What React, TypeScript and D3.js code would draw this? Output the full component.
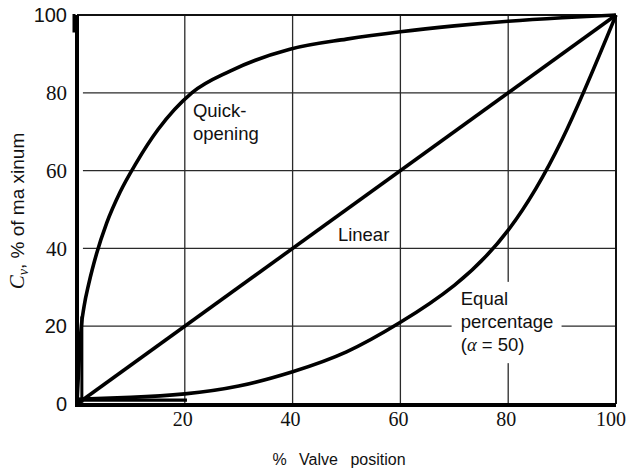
import React from 'react';
import * as d3 from 'd3';

// Tick values
const xTickValues = [20, 40, 60, 80, 100];
const yTickValues = [0, 20, 40, 60, 80, 100];
const gridValues = [20, 40, 60, 80];

// Series (valve position %, Cv % of maximum)
const linearX = [0, 100];
const linearY = [0, 100];

const quickX = [0, 0.8, 1.3, 2.2, 3.6, 5.5, 8, 11, 15, 21.3, 28.4, 39.5, 50, 60, 70, 80, 90, 100];
const quickY = [0, 20, 25, 31, 38.5, 46.5, 54.5, 62, 70.5, 80, 85.6, 91.2, 93.8, 95.7, 97.2, 98.4, 99.3, 100];

const equalX = [0, 10, 20, 30, 40, 50, 60, 70, 80, 90, 100];
const equalY = [1.2, 1.7, 2.6, 4.6, 8.3, 13.4, 21, 30.5, 44.7, 68, 100];

// Scan artefacts drawn as extra strokes
const baseStubX = [0.5, 20.4];
const baseStubY = [1.0, 1.0];
const leftStubX = [0.9, 0.9];
const leftStubY = [0.3, 22.5];

const zip = (xs: number[], ys: number[]) => xs.map((v, i) => [v, ys[i]] as [number, number]);

export default function App() {
  const W = 627;
  const H = 470;
  const x = d3.scaleLinear().domain([0, 100]).range([77, 616]);
  const y = d3.scaleLinear().domain([0, 100]).range([404, 15]);
  const line = d3
    .line<[number, number]>()
    .x((d) => x(d[0]))
    .y((d) => y(d[1]))
    .curve(d3.curveMonotoneX);
  const smooth = d3
    .line<[number, number]>()
    .x((d) => x(d[0]))
    .y((d) => y(d[1]))
    .curve(d3.curveNatural);
  const straight = d3
    .line<[number, number]>()
    .x((d) => x(d[0]))
    .y((d) => y(d[1]));

  const serifY = new Set([40, 60, 80]);
  const sans = 'Liberation Sans, Arial, sans-serif';
  const serif = 'Liberation Serif, Times New Roman, serif';
  const gridColor = '#2a2a2a';

  return (
    <svg
      width={W}
      height={H}
      viewBox={`0 0 ${W} ${H}`}
      style={{ position: 'absolute', left: 0, top: 0, background: '#fff' }}
    >
      <rect x={0} y={0} width={W} height={H} fill="#fff" />
      {/* grid */}
      {gridValues.map((v) => (
        <line key={'vx' + v} x1={x(v)} x2={x(v)} y1={y(0)} y2={y(100)} stroke={gridColor} strokeWidth={1.3} />
      ))}
      {gridValues.map((v) => (
        <line key={'hy' + v} x1={x(1.1)} x2={x(100)} y1={y(v)} y2={y(v)} stroke={gridColor} strokeWidth={1.3} />
      ))}
      {/* frame */}
      <line x1={x(0)} x2={x(100)} y1={y(100)} y2={y(100)} stroke="#111" strokeWidth={2} />
      <line x1={x(100)} x2={x(100)} y1={y(0)} y2={y(100)} stroke="#111" strokeWidth={2} />

      {/* white box behind equal percentage label */}
      <rect x={x(69.5)} y={y(31.4)} width={x(89.9) - x(69.5)} height={y(10.5) - y(31.4)} fill="#fff" />

      {/* curves */}
      <path d={straight(zip(linearX, linearY)) || ''} fill="none" stroke="#000" strokeWidth={3.6} />
      <path d={line(zip(quickX, quickY)) || ''} fill="none" stroke="#000" strokeWidth={3.6} />
      <path d={smooth(zip(equalX, equalY)) || ''} fill="none" stroke="#000" strokeWidth={3.6} />
      <path d={straight(zip(baseStubX, baseStubY)) || ''} fill="none" stroke="#000" strokeWidth={3.4} />
      <path d={straight(zip(leftStubX, leftStubY)) || ''} fill="none" stroke="#000" strokeWidth={3} />

      {/* axes */}
      <line x1={x(0)} x2={x(100)} y1={y(0) + 1} y2={y(0) + 1} stroke="#000" strokeWidth={4} />
      <line x1={x(0)} x2={x(0)} y1={y(100)} y2={y(0) + 3} stroke="#000" strokeWidth={4} />
      <line x1={x(0) - 3} x2={x(0) - 3} y1={y(100) - 1} y2={y(95.5)} stroke="#000" strokeWidth={3} />

      {/* y tick labels */}
      {yTickValues.map((v) => (
        <text
          key={'yl' + v}
          x={67}
          y={y(v)}
          dy="0.36em"
          textAnchor="end"
          fontFamily={serifY.has(v) ? serif : sans}
          fontSize={serifY.has(v) ? 21 : 20}
          fill="#111"
        >
          {v}
        </text>
      ))}
      {/* x tick labels */}
      {xTickValues.map((v) => (
        <text
          key={'xl' + v}
          x={v === 100 ? 626 : x(v) - 2}
          y={426}
          textAnchor={v === 100 ? 'end' : 'middle'}
          fontFamily={serif}
          fontSize={20}
          fill="#111"
        >
          {v}
        </text>
      ))}

      {/* axis titles */}
      <text
        x={339}
        y={465}
        textAnchor="middle"
        fontFamily={sans}
        fontSize={16}
        style={{ wordSpacing: '8px' }}
        fill="#111"
      >
        % Valve position
      </text>
      <text
        transform="translate(24,211) rotate(-90)"
        textAnchor="middle"
        fontFamily={sans}
        fontSize={19}
        fill="#111"
      >
        <tspan fontFamily={serif} fontStyle="italic" fontSize={21}>C</tspan>
        <tspan fontFamily={serif} fontStyle="italic" fontSize={14} dy={4}>v</tspan>
        <tspan dy={-4}>, % of ma xinum</tspan>
      </text>

      {/* curve labels */}
      <text x={x(21.5)} y={y(73.8)} fontFamily={sans} fontSize={18.5} fill="#111">
        <tspan x={x(21.5)}>Quick-</tspan>
        <tspan x={x(21.5)} dy={23}>opening</tspan>
      </text>
      <text x={x(48.4)} y={y(41.9)} fontFamily={sans} fontSize={18.5} fill="#111">
        Linear
      </text>
      <text x={x(71.2)} y={y(25.4)} fontFamily={sans} fontSize={18.5} fill="#111">
        <tspan x={x(71.2)}>Equal</tspan>
        <tspan x={x(71.2)} dy={23}>percentage</tspan>
        <tspan x={x(71.2)} dy={23}>
          (<tspan fontFamily={serif} fontStyle="italic">α</tspan> = 50)
        </tspan>
      </text>
    </svg>
  );
}
